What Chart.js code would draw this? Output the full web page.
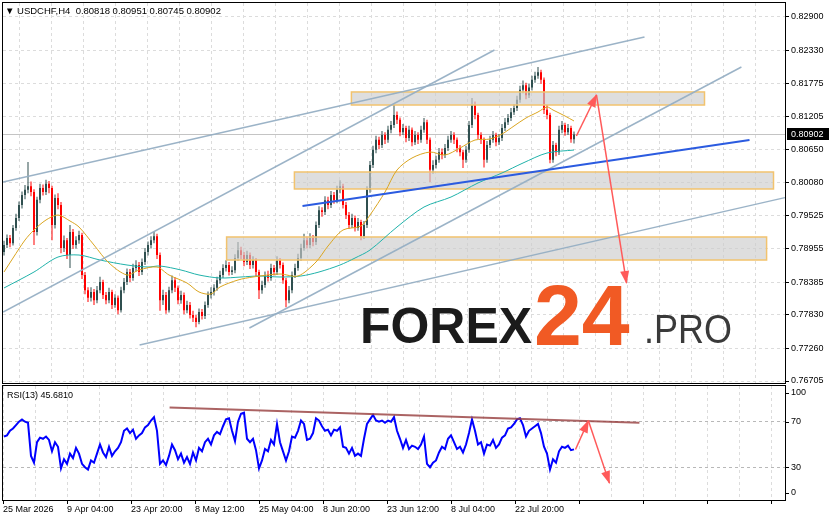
<!DOCTYPE html>
<html>
<head>
<meta charset="utf-8">
<script src="https://cdn.jsdelivr.net/npm/chart.js@4.4.1/dist/chart.umd.min.js"></script>
<style>
  html, body { margin: 0; padding: 0; background: #fff; }
  #wrap { position: relative; width: 831px; height: 521px; overflow: hidden; }
  #priceChart { position: absolute; left: 0; top: 0; }
  #rsiChart { position: absolute; left: 0; top: 384px; }
</style>
</head>
<body>
<div id="wrap">
  <canvas id="priceChart" width="831" height="388"></canvas>
  <canvas id="rsiChart" width="831" height="137"></canvas>
</div>
<script>
// H4 bars, USDCHF
const timeLabels = ['25 Mar 2026', '9 Apr 04:00', '23 Apr 20:00', '8 May 12:00', '25 May 04:00',
  '8 Jun 20:00', '23 Jun 12:00', '8 Jul 04:00', '22 Jul 20:00'];
const priceTicks = [0.82900, 0.82330, 0.81775, 0.81205, 0.80650, 0.80080, 0.79525, 0.78955,
  0.78385, 0.77830, 0.77260, 0.76705];
const rsiLevels = [70, 30];
const rsiAxisLabels = [100, 70, 30, 0];

const opens = [
  0.7890,0.7902,0.7914,0.7905,0.7931,0.7948,0.7970,0.7987,0.7996,0.8002,
  0.7992,0.7924,0.7979,0.7999,0.7992,0.8006,0.7999,0.7936,0.7982,0.7970,
  0.7897,0.7910,0.7885,0.7924,0.7902,0.7910,0.7919,0.7851,0.7825,0.7812,
  0.7822,0.7808,0.7825,0.7839,0.7817,0.7808,0.7822,0.7800,0.7812,0.7791,
  0.7825,0.7839,0.7856,0.7846,0.7863,0.7868,0.7856,0.7873,0.7890,0.7902,
  0.7910,0.7917,0.7885,0.7808,0.7817,0.7791,0.7825,0.7842,0.7829,0.7808,
  0.7817,0.7791,0.7800,0.7783,0.7778,0.7771,0.7788,0.7781,0.7800,0.7817,
  0.7822,0.7829,0.7842,0.7851,0.7863,0.7868,0.7856,0.7859,0.7880,0.7893,
  0.7885,0.7873,0.7885,0.7868,0.7876,0.7856,0.7825,0.7834,0.7851,0.7846,
  0.7863,0.7856,0.7876,0.7868,0.7842,0.7808,0.7825,0.7851,0.7863,0.7880,
  0.7897,0.7910,0.7902,0.7914,0.7907,0.7936,0.7961,0.7958,0.7978,0.7970,
  0.7987,0.7978,0.7996,0.8002,0.7970,0.7953,0.7936,0.7948,0.7931,0.7941,
  0.7917,0.7936,0.7996,0.8038,0.8064,0.8081,0.8072,0.8089,0.8081,0.8098,
  0.8106,0.8123,0.8115,0.8094,0.8101,0.8084,0.8098,0.8077,0.8089,0.8081,
  0.8098,0.8111,0.8081,0.8030,0.8038,0.8047,0.8060,0.8055,0.8067,0.8081,
  0.8089,0.8081,0.8067,0.8060,0.8047,0.8064,0.8106,0.8140,0.8123,0.8089,
  0.8081,0.8047,0.8072,0.8081,0.8089,0.8077,0.8084,0.8101,0.8111,0.8118,
  0.8128,0.8135,0.8149,0.8166,0.8174,0.8157,0.8170,0.8183,0.8190,0.8196,
  0.8183,0.8132,0.8123,0.8047,0.8072,0.8060,0.8098,0.8106,0.8094,0.8101,
  0.80818
];
const highs = [
  0.7909,0.7920,0.7919,0.7936,0.7955,0.7976,0.7993,0.8004,0.8043,0.8010,
  0.7997,0.7984,0.8006,0.8005,0.8013,0.8011,0.8003,0.7988,0.7990,0.7975,
  0.7918,0.7914,0.7936,0.7929,0.7917,0.7926,0.7923,0.7856,0.7830,0.7830,
  0.7827,0.7832,0.7848,0.7843,0.7822,0.7829,0.7826,0.7818,0.7816,0.7831,
  0.7846,0.7862,0.7861,0.7870,0.7876,0.7873,0.7879,0.7897,0.7908,0.7917,
  0.7924,0.7921,0.7889,0.7826,0.7822,0.7831,0.7850,0.7847,0.7833,0.7824,
  0.7821,0.7807,0.7805,0.7790,0.7783,0.7794,0.7793,0.7806,0.7823,0.7830,
  0.7835,0.7848,0.7858,0.7869,0.7876,0.7873,0.7866,0.7886,0.7907,0.7899,
  0.7890,0.7892,0.7889,0.7883,0.7880,0.7860,0.7841,0.7857,0.7858,0.7870,
  0.7868,0.7883,0.7880,0.7872,0.7846,0.7832,0.7857,0.7870,0.7887,0.7904,
  0.7921,0.7916,0.7922,0.7919,0.7942,0.7968,0.7966,0.7985,0.7984,0.7994,
  0.7992,0.8003,0.8012,0.8006,0.7975,0.7958,0.7955,0.7952,0.7948,0.7945,
  0.7943,0.8002,0.8045,0.8071,0.8088,0.8086,0.8096,0.8094,0.8105,0.8113,
  0.8140,0.8129,0.8119,0.8108,0.8105,0.8105,0.8102,0.8096,0.8094,0.8105,
  0.8118,0.8115,0.8085,0.8046,0.8054,0.8067,0.8066,0.8074,0.8088,0.8096,
  0.8094,0.8085,0.8072,0.8064,0.8071,0.8113,0.8152,0.8146,0.8127,0.8094,
  0.8085,0.8079,0.8088,0.8096,0.8093,0.8091,0.8108,0.8118,0.8125,0.8135,
  0.8142,0.8156,0.8173,0.8182,0.8178,0.8177,0.8190,0.8197,0.8205,0.8200,
  0.8187,0.8140,0.8127,0.8079,0.8076,0.8105,0.8113,0.8110,0.8108,0.8105,
  0.80951
];
const lows = [
  0.7884,0.7897,0.7898,0.7901,0.7926,0.7943,0.7964,0.7980,0.7990,0.7985,
  0.7902,0.7918,0.7973,0.7986,0.7987,0.7990,0.7910,0.7930,0.7963,0.7888,
  0.7890,0.7878,0.7863,0.7895,0.7896,0.7904,0.7844,0.7818,0.7805,0.7806,
  0.7800,0.7803,0.7820,0.7810,0.7801,0.7803,0.7793,0.7795,0.7784,0.7787,
  0.7820,0.7834,0.7839,0.7841,0.7857,0.7849,0.7851,0.7868,0.7884,0.7896,
  0.7905,0.7878,0.7790,0.7800,0.7785,0.7787,0.7820,0.7822,0.7801,0.7802,
  0.7784,0.7786,0.7777,0.7771,0.7762,0.7767,0.7775,0.7776,0.7795,0.7811,
  0.7816,0.7824,0.7836,0.7846,0.7857,0.7850,0.7851,0.7854,0.7875,0.7878,
  0.7866,0.7868,0.7861,0.7862,0.7849,0.7810,0.7819,0.7829,0.7840,0.7841,
  0.7850,0.7851,0.7862,0.7836,0.7796,0.7803,0.7820,0.7846,0.7858,0.7875,
  0.7892,0.7896,0.7897,0.7900,0.7902,0.7931,0.7950,0.7953,0.7963,0.7965,
  0.7972,0.7973,0.7990,0.7964,0.7946,0.7929,0.7931,0.7925,0.7926,0.7910,
  0.7912,0.7931,0.7991,0.8033,0.8058,0.8065,0.8067,0.8074,0.8076,0.8092,
  0.8101,0.8108,0.8087,0.8089,0.8077,0.8079,0.8070,0.8072,0.8074,0.8076,
  0.8093,0.8074,0.8009,0.8023,0.8032,0.8042,0.8048,0.8050,0.8062,0.8076,
  0.8074,0.8060,0.8053,0.8033,0.8042,0.8059,0.8101,0.8116,0.8082,0.8074,
  0.8034,0.8042,0.8067,0.8076,0.8070,0.8072,0.8079,0.8096,0.8106,0.8113,
  0.8123,0.8130,0.8144,0.8160,0.8150,0.8152,0.8165,0.8178,0.8185,0.8176,
  0.8125,0.8116,0.8041,0.8042,0.8053,0.8055,0.8092,0.8088,0.8089,0.8076,
  0.80745
];
const closes = [
  0.7902,0.7914,0.7905,0.7931,0.7948,0.7970,0.7987,0.7996,0.8002,0.7992,
  0.7924,0.7979,0.7999,0.7992,0.8006,0.7999,0.7936,0.7982,0.7970,0.7897,
  0.7910,0.7885,0.7924,0.7902,0.7910,0.7919,0.7851,0.7825,0.7812,0.7822,
  0.7808,0.7825,0.7839,0.7817,0.7808,0.7822,0.7800,0.7812,0.7791,0.7825,
  0.7839,0.7856,0.7846,0.7863,0.7868,0.7856,0.7873,0.7890,0.7902,0.7910,
  0.7917,0.7885,0.7808,0.7817,0.7791,0.7825,0.7842,0.7829,0.7808,0.7817,
  0.7791,0.7800,0.7783,0.7778,0.7771,0.7788,0.7781,0.7800,0.7817,0.7822,
  0.7829,0.7842,0.7851,0.7863,0.7868,0.7856,0.7859,0.7880,0.7893,0.7885,
  0.7873,0.7885,0.7868,0.7876,0.7856,0.7825,0.7834,0.7851,0.7846,0.7863,
  0.7856,0.7876,0.7868,0.7842,0.7808,0.7825,0.7851,0.7863,0.7880,0.7897,
  0.7910,0.7902,0.7914,0.7907,0.7936,0.7961,0.7958,0.7978,0.7970,0.7987,
  0.7978,0.7996,0.8002,0.7970,0.7953,0.7936,0.7948,0.7931,0.7941,0.7917,
  0.7936,0.7996,0.8038,0.8064,0.8081,0.8072,0.8089,0.8081,0.8098,0.8106,
  0.8123,0.8115,0.8094,0.8101,0.8084,0.8098,0.8077,0.8089,0.8081,0.8098,
  0.8111,0.8081,0.8030,0.8038,0.8047,0.8060,0.8055,0.8067,0.8081,0.8089,
  0.8081,0.8067,0.8060,0.8047,0.8064,0.8106,0.8140,0.8123,0.8089,0.8081,
  0.8047,0.8072,0.8081,0.8089,0.8077,0.8084,0.8101,0.8111,0.8118,0.8128,
  0.8135,0.8149,0.8166,0.8174,0.8157,0.8170,0.8183,0.8190,0.8196,0.8183,
  0.8132,0.8123,0.8047,0.8072,0.8060,0.8098,0.8106,0.8094,0.8101,0.80818,
  0.80902
];

// RSI(13)
const rsiValues = [
  57,58,62,64,67,70,72,70,69,40, 34,52,56,55,57,54,44,52,48,29,
  37,33,42,38,47,42,33,30,28,36, 34,42,50,43,39,48,40,44,47,52,
  62,64,60,63,55,58,60,65,67,71, 74,62,33,36,32,40,50,45,37,42,
  34,39,33,43,36,47,44,52,55,50, 58,61,59,66,72,73,62,53,70,77,
  78,55,52,55,45,29,36,46,44,54, 50,68,52,44,36,44,57,56,62,71,
  68,54,55,60,73,71,66,62,63,58, 63,62,65,48,47,42,47,40,42,40,
  55,68,72,76,71,70,71,69,71,70, 74,62,55,47,54,46,49,48,46,50,
  57,33,30,34,36,43,48,46,55,58, 52,46,48,43,50,60,72,62,50,52,
  42,50,49,54,47,50,56,58,64,65, 68,72,73,67,57,62,64,66,68,60,
  48,42,28,37,34,44,48,47,49,45, 45.681
];

// moving averages (bar index, price)
const maFastBars = [0,3,7,10,14,18,22,25,30,35,41,45,51,55,61,65,69,72,78,83,92,98,104,108,
  113,119,122,127,131,136,142,147,152,157,162,166,170,174,178,181,183,187,190];
const maFastValues = [0.78560,0.78798,0.79104,0.79275,0.79445,0.79530,0.79428,0.79326,0.79019,
  0.78713,0.78509,0.78594,0.78645,0.78509,0.78373,0.78220,0.78185,0.78305,0.78424,0.78475,
  0.78526,0.78492,0.78730,0.79002,0.79275,0.79343,0.79530,0.79921,0.80296,0.80500,0.80602,
  0.80551,0.80670,0.80806,0.80823,0.80908,0.81045,0.81181,0.81283,0.81368,0.81317,0.81215,0.81130];
const maSlowBars = [0,10,18,25,32,41,48,52,59,65,72,79,85,92,99,105,112,117,122,131,140,149,
  158,166,173,181,190];
const maSlowValues = [0.78288,0.78560,0.78815,0.78849,0.78764,0.78679,0.78645,0.78662,0.78594,
  0.78509,0.78458,0.78475,0.78492,0.78475,0.78492,0.78560,0.78679,0.78798,0.78934,0.79326,
  0.79666,0.79836,0.80075,0.80245,0.80415,0.80585,0.80636];

// drawn objects: [bar1, price1, bar2, price2]
const channelLines = [
  [-0.3, 0.80092, 213.5, 0.82559],
  [-0.3, 0.77879, 163.5, 0.82338],
  [45.2, 0.77318, 260.3, 0.79826],
  [81.8, 0.77607, 245.8, 0.82049]
];
const supportLine = [99.5, 0.79683, 248.5, 0.80807];
const forecastUp = [190.8, 0.80874, 197.5, 0.81572];
const forecastDown = [197.5, 0.81572, 207.5, 0.78373];
// zones: [bar1, bar2, low, high]
const zones = [
  [115.8, 233.5, 0.81402, 0.81624],
  [96.8, 256.5, 0.79973, 0.80262],
  [74.2, 254.2, 0.78764, 0.79156]
];
const rsiTrend = [55.2, 82.4, 211.8, 69.1];
const rsiForecastUp = [190.5, 45.6, 194.8, 70.9];
const rsiForecastDown = [194.8, 70.9, 201.8, 16.1];

const upColor = '#2f4f4f';
const downColor = '#ff0000';
const gridColor = '#dcdcdc';
const xMin = -1 / 3, xMax = 781 / 3;
const last = closes.length - 1;

Chart.defaults.font.family = '"Liberation Sans", Arial, sans-serif';
Chart.defaults.font.size = 9;
Chart.defaults.color = '#000';

const segment = (s, extra) => Object.assign({
  type: 'line',
  data: [{ x: s[0], y: s[1] }, { x: s[2], y: s[3] }],
  pointRadius: 0, borderWidth: 1.5, fill: false, tension: 0
}, extra);

const candleColor = (ctx) => {
  const i = ctx.dataIndex;
  if (i === undefined) return upColor;
  return closes[i] >= opens[i] ? upColor : downColor;
};

function verticalGrid(scale) {
  scale.ticks = [];
  for (let k = 0; k <= 24; k++) scale.ticks.push({ value: (32 * k - 1) / 3 });
}

function drawFrame(chart) {
  const { ctx, chartArea: a } = chart;
  ctx.save();
  ctx.strokeStyle = '#000';
  ctx.lineWidth = 1;
  ctx.strokeRect(Math.round(a.left) - 0.5, Math.round(a.top) - 0.5,
    Math.round(a.right - a.left) + 1, Math.round(a.bottom - a.top) + 1);
  ctx.restore();
}

function drawArrowHeads(chart) {
  const ctx = chart.ctx;
  chart.data.datasets.forEach((ds, i) => {
    if (!ds.arrowHead) return;
    const pts = chart.getDatasetMeta(i).data;
    const a = pts[0], b = pts[1];
    const ang = Math.atan2(b.y - a.y, b.x - a.x);
    ctx.save();
    ctx.translate(b.x, b.y);
    ctx.rotate(ang);
    ctx.beginPath();
    ctx.moveTo(1, 0);
    ctx.lineTo(-12, -4.5);
    ctx.lineTo(-12, 4.5);
    ctx.closePath();
    ctx.fillStyle = ds.borderColor;
    ctx.fill();
    ctx.restore();
  });
}

const priceOverlay = {
  id: 'priceOverlay',
  beforeDatasetsDraw(chart) {
    // bid line
    const { ctx, chartArea: a, scales: { y } } = chart;
    const py = Math.round(y.getPixelForValue(closes[last])) + 0.5;
    ctx.save();
    ctx.strokeStyle = '#c4c4c4';
    ctx.lineWidth = 1;
    ctx.beginPath();
    ctx.moveTo(a.left, py);
    ctx.lineTo(a.right, py);
    ctx.stroke();
    ctx.restore();
  },
  afterDatasetDraw(chart, args) {
    if (chart.data.datasets[args.index].label !== 'bodies') return;
    const { ctx, scales: { x, y } } = chart;
    ctx.save();
    zones.forEach(z => {
      const x1 = x.getPixelForValue(z[0]), x2 = x.getPixelForValue(z[1]);
      const y1 = y.getPixelForValue(z[3]), y2 = y.getPixelForValue(z[2]);
      ctx.fillStyle = 'rgba(205,205,205,0.65)';
      ctx.fillRect(x1, y1, x2 - x1, y2 - y1);
      ctx.strokeStyle = '#f2c36e';
      ctx.lineWidth = 1.5;
      ctx.strokeRect(x1, y1, x2 - x1, y2 - y1);
    });
    ctx.restore();
  },
  afterDraw(chart) {
    const { ctx, chartArea: a, scales: { y } } = chart;
    drawArrowHeads(chart);

    // watermark
    ctx.save();
    ctx.textBaseline = 'alphabetic';
    ctx.textAlign = 'left';
    ctx.fillStyle = '#1b1b1b';
    ctx.font = 'bold 50px "Liberation Sans", Arial, sans-serif';
    ctx.fillText('FOREX', 360, 343, 172);
    ctx.fillStyle = '#f15a24';
    ctx.font = 'bold 86px "Liberation Sans", Arial, sans-serif';
    ctx.fillText('24', 534, 345, 106);
    ctx.fillStyle = '#3a3a3a';
    ctx.font = '40px "Liberation Sans", Arial, sans-serif';
    ctx.fillText('.PRO', 644, 343, 88);
    ctx.restore();

    drawFrame(chart);

    // title
    ctx.save();
    ctx.fillStyle = '#000';
    ctx.font = '9.5px "Liberation Sans", Arial, sans-serif';
    ctx.textBaseline = 'middle';
    const f = v => v.toFixed(5);
    ctx.fillText('\u25BC USDCHF,H4  ' + f(opens[last]) + ' ' + f(highs[last]) + ' ' +
      f(lows[last]) + ' ' + f(closes[last]), 5, 11);

    // current price label
    const py = Math.round(y.getPixelForValue(closes[last]));
    ctx.fillStyle = '#000';
    ctx.fillRect(a.right + 2, py - 6, 42, 12);
    ctx.fillStyle = '#fff';
    ctx.font = '9px "Liberation Sans", Arial, sans-serif';
    ctx.fillText(f(closes[last]), a.right + 6, py + 0.5);
    ctx.restore();
  }
};

new Chart(document.getElementById('priceChart'), {
  type: 'bar',
  data: {
    datasets: [
      segment(forecastUp, { borderColor: '#ff5a5a', arrowHead: true, order: 0 }),
      segment(forecastDown, { borderColor: '#ff5a5a', arrowHead: true, order: 0 }),
      segment(supportLine, { borderColor: '#2b5be0', borderWidth: 2, order: 1 }),
      ...channelLines.map(s => segment(s, { borderColor: 'rgba(150,175,196,0.95)', order: 2 })),
      {
        type: 'line', label: 'MA fast',
        data: maFastBars.map((b, i) => ({ x: b, y: maFastValues[i] })),
        borderColor: '#daa520', borderWidth: 1, pointRadius: 0, tension: 0.3, order: 4
      },
      {
        type: 'line', label: 'MA slow',
        data: maSlowBars.map((b, i) => ({ x: b, y: maSlowValues[i] })),
        borderColor: '#20b2aa', borderWidth: 1, pointRadius: 0, tension: 0.3, order: 4
      },
      {
        label: 'bodies',
        data: opens.map((o, i) => ({ x: i, y: [o, closes[i]] })),
        backgroundColor: candleColor, barThickness: 2, grouped: false,
        minBarLength: 1, inflateAmount: 0, order: 8
      },
      {
        label: 'wicks',
        data: highs.map((h, i) => ({ x: i, y: [lows[i], h] })),
        backgroundColor: candleColor, barThickness: 1, grouped: false,
        inflateAmount: 0, order: 9
      }
    ]
  },
  options: {
    responsive: false,
    animation: false,
    events: [],
    layout: { padding: { left: 3, top: 3, right: 0, bottom: 5 } },
    plugins: { legend: { display: false }, tooltip: { enabled: false } },
    scales: {
      x: {
        type: 'linear', min: xMin, max: xMax, offset: false,
        afterBuildTicks: verticalGrid,
        afterFit: s => { s.height = 0; s.paddingLeft = 0; s.paddingRight = 0; },
        ticks: { display: false },
        grid: { color: gridColor, drawTicks: false },
        border: { display: false, dash: [3, 3] }
      },
      y: {
        type: 'linear', position: 'right', min: 0.76671, max: 0.83138,
        afterBuildTicks: s => { s.ticks = priceTicks.map(v => ({ value: v })); },
        afterFit: s => { s.width = 46; s.paddingTop = 0; s.paddingBottom = 0; },
        ticks: { callback: v => v.toFixed(5), padding: 2, color: '#000' },
        grid: { color: gridColor, tickLength: 4, tickColor: '#000', tickBorderDash: [] },
        border: { display: false, dash: [3, 3] }
      }
    }
  },
  plugins: [priceOverlay]
});

const rsiOverlay = {
  id: 'rsiOverlay',
  afterDraw(chart) {
    const { ctx, chartArea: a, scales: { y } } = chart;
    drawArrowHeads(chart);
    drawFrame(chart);
    ctx.save();
    ctx.fillStyle = '#000';
    ctx.strokeStyle = '#000';
    ctx.font = '9px "Liberation Sans", Arial, sans-serif';
    ctx.textBaseline = 'middle';
    ctx.fillText('RSI(13) ' + rsiValues[last].toFixed(4), 7, a.top + 10);
    rsiAxisLabels.forEach(v => {
      const py = Math.min(Math.max(y.getPixelForValue(v), a.top + 7), a.bottom - 7);
      const ry = Math.round(py) + 0.5;
      ctx.beginPath();
      ctx.moveTo(a.right, ry);
      ctx.lineTo(a.right + 4, ry);
      ctx.stroke();
      ctx.fillText(String(v), a.right + 6, py);
    });
    ctx.restore();
  }
};

new Chart(document.getElementById('rsiChart'), {
  type: 'line',
  data: {
    datasets: [
      segment(rsiForecastUp, { borderColor: '#ff5a5a', arrowHead: true, order: 0 }),
      segment(rsiForecastDown, { borderColor: '#ff5a5a', arrowHead: true, order: 0 }),
      segment(rsiTrend, { borderColor: 'rgba(150,60,60,0.8)', borderWidth: 2, order: 1 }),
      {
        label: 'RSI(13)',
        data: rsiValues.map((v, i) => ({ x: i, y: v })),
        borderColor: '#0000ff', borderWidth: 2, pointRadius: 0, tension: 0, order: 2
      }
    ]
  },
  options: {
    responsive: false,
    animation: false,
    events: [],
    layout: { padding: { left: 3, top: 2, right: 0, bottom: 0 } },
    plugins: { legend: { display: false }, tooltip: { enabled: false } },
    scales: {
      x: {
        type: 'linear', min: xMin, max: xMax, offset: false,
        afterBuildTicks: verticalGrid,
        afterFit: s => { s.height = 21; s.paddingLeft = 0; s.paddingRight = 0; },
        ticks: {
          autoSkip: false, maxRotation: 0, align: 'start', padding: 0, color: '#000',
          callback: (v, i) => (i % 2 === 0 && timeLabels[i / 2]) || ''
        },
        grid: {
          color: gridColor, tickLength: 4, tickBorderDash: [],
          tickColor: c => (c.index % 2 === 0 ? '#000' : 'rgba(0,0,0,0)')
        },
        border: { display: false, dash: [3, 3] }
      },
      y: {
        type: 'linear', position: 'right', min: 1.3, max: 101.3,
        afterBuildTicks: s => { s.ticks = rsiLevels.map(v => ({ value: v })); },
        afterFit: s => { s.width = 46; s.paddingTop = 0; s.paddingBottom = 0; },
        ticks: { display: false },
        grid: { color: '#b8b8b8', drawTicks: false },
        border: { display: false, dash: [3, 3] }
      }
    }
  },
  plugins: [rsiOverlay]
});
</script>
</body>
</html>
